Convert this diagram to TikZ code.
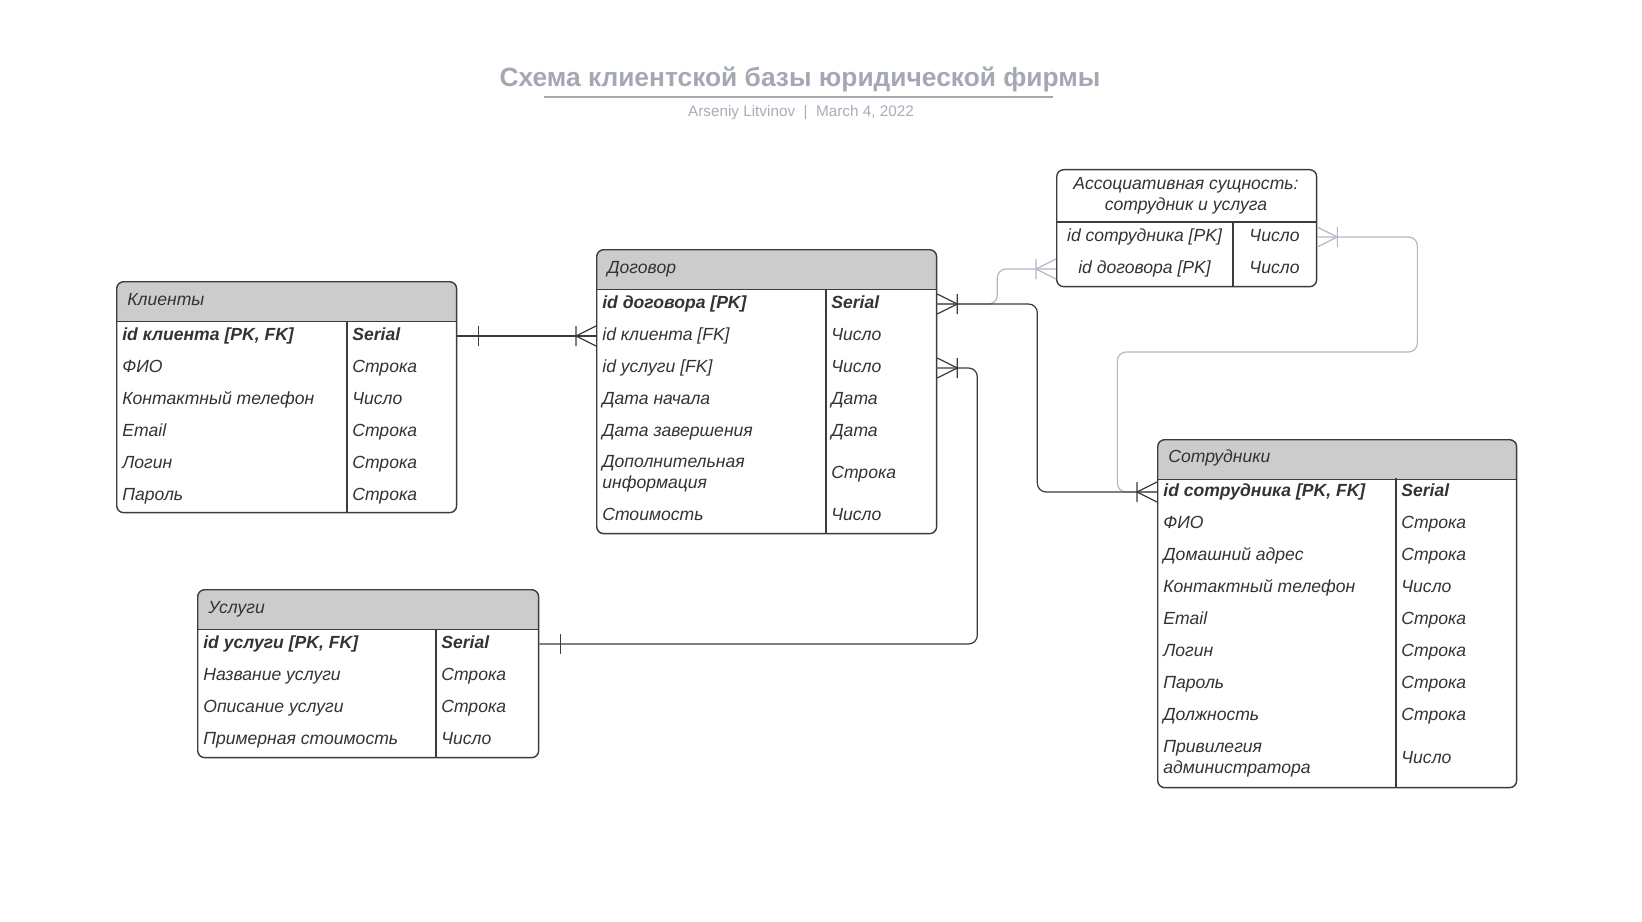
\documentclass[tikz,border=0pt]{standalone}
\usepackage{fontspec}
\setmainfont{Liberation Sans}
\usepackage{xcolor}
\definecolor{tabline}{HTML}{3C3C3C}
\definecolor{headfill}{HTML}{CCCCCC}
\definecolor{txt}{HTML}{333333}
\definecolor{relgray}{HTML}{B3B9C6}
\definecolor{ttl}{HTML}{A3A8B2}
\definecolor{byl}{HTML}{A9ACB3}

\tikzset{
  tab/.style={draw=tabline, line width=0.8pt, rounded corners=4pt, anchor=north west, inner sep=0pt, fill=white},
  headtab/.style={tab, path picture={
      \fill[headfill, sharp corners] (path picture bounding box.north west) rectangle ([yshift=-0.8cm]path picture bounding box.north east);
      \draw[tabline, line width=0.8pt, sharp corners] ([yshift=-0.8cm]path picture bounding box.north west) -- ([yshift=-0.8cm]path picture bounding box.north east);}},
  sep/.style={draw=tabline, line width=0.8pt},
  fld/.style={anchor=west, inner sep=0pt, text height=7.3pt, text depth=2.3pt, text=txt, font=\fontsize{10}{12}\selectfont\itshape},
  key/.style={fld, font=\fontsize{10}{12}\selectfont\bfseries\itshape},
  twoline/.style={fld, text height=, text depth=, align=left},
  rel/.style={draw=tabline, line width=0.7pt, rounded corners=5pt},
  relg/.style={rel, draw=relgray},
  one/.pic={\draw[line width=0.7pt] (21,-10) -- (21,10);},
  many/.pic={\draw[line width=0.7pt, sharp corners] (20,-10) -- (20,10) (0,-10) -- (20,0) -- (0,10);}
}

\begin{document}
\begin{tikzpicture}[x=0.02cm, y=-0.02cm]
\useasboundingbox (0,0) rectangle (1642,922);

% title
\node[font=\fontsize{15}{18}\selectfont\bfseries, text=ttl] (title) at (800,79) {Схема клиентской базы юридической фирмы};
\draw[ttl, line width=1.6pt] (544,97) -- (1053,97);
\node[font=\fontsize{8.7}{10}\selectfont, text=byl] (byline) at (801,113) {Arseniy Litvinov~~|~~March 4, 2022};

% Клиенты
\node[headtab, minimum width=6.8cm, minimum height=4.62cm] (kl) at (116,281) {};
\node[fld] (kl-h) at (127,301) {Клиенты};
\draw[sep] (347,321) -- (347,512);
\node[key] (kl-id) at (122,336) {id клиента [PK, FK]};
\node[key] (kl-idt) at (352,336) {Serial};
\foreach \n/\t [count=\i] in {ФИО/Строка, Контактный телефон/Число, Email/Строка, Логин/Строка, Пароль/Строка}{
  \node[fld] (kl-f\i) at (122,336+32*\i) {\n};
  \node[fld] (kl-t\i) at (352,336+32*\i) {\t};
}

% Договор
\node[headtab, minimum width=6.8cm, minimum height=5.68cm] (dg) at (596,249) {};
\node[fld] (dg-h) at (607,269) {Договор};
\draw[sep] (826,289) -- (826,533);
\node[key] (dg-id) at (602,304) {id договора [PK]};
\node[key] (dg-idt) at (831,304) {Serial};
\foreach \n/\t [count=\i] in {id клиента [FK]/Число, id услуги [FK]/Число, Дата начала/Дата, Дата завершения/Дата}{
  \node[fld] (dg-f\i) at (602,304+32*\i) {\n};
  \node[fld] (dg-t\i) at (831,304+32*\i) {\t};
}
\node[twoline] (dg-f5) at (602,474) {Дополнительная\\информация};
\node[fld] (dg-t5) at (831,474) {Строка};
\node[fld] (dg-f6) at (602,516) {Стоимость};
\node[fld] (dg-t6) at (831,516) {Число};

% Услуги
\node[headtab, minimum width=6.82cm, minimum height=3.36cm] (us) at (197,589) {};
\node[fld] (us-h) at (208,609) {Услуги};
\draw[sep] (436,629) -- (436,757);
\node[key] (us-id) at (203,644) {id услуги [PK, FK]};
\node[key] (us-idt) at (441,644) {Serial};
\foreach \n/\t [count=\i] in {Название услуги/Строка, Описание услуги/Строка, Примерная стоимость/Число}{
  \node[fld] (us-f\i) at (203,644+32*\i) {\n};
  \node[fld] (us-t\i) at (441,644+32*\i) {\t};
}

% Сотрудники
\node[headtab, minimum width=7.18cm, minimum height=6.96cm] (st) at (1157,439) {};
\node[fld] (st-h) at (1168,458) {Сотрудники};
\draw[sep] (1396,478) -- (1396,787);
\node[key] (st-id) at (1163,492) {id сотрудника [PK, FK]};
\node[key] (st-idt) at (1401,492) {Serial};
\foreach \n/\t [count=\i] in {ФИО/Строка, Домашний адрес/Строка, Контактный телефон/Число, Email/Строка, Логин/Строка, Пароль/Строка, Должность/Строка}{
  \node[fld] (st-f\i) at (1163,492+32*\i) {\n};
  \node[fld] (st-t\i) at (1401,492+32*\i) {\t};
}
\node[twoline] (st-f8) at (1163,759) {Привилегия\\администратора};
\node[fld] (st-t8) at (1401,759) {Число};

% ассоциативная сущность
\node[tab, minimum width=5.2cm, minimum height=2.34cm] (as) at (1056,169) {};
\node[twoline, anchor=center, align=center] (as-h) at (1186,196) {Ассоциативная сущность:\\сотрудник и услуга};
\draw[sep] (1056,222) -- (1316,222) (1233,222) -- (1233,286);
\node[fld, anchor=center] (as-st) at (1144.5,237) {id сотрудника [PK]};
\node[fld, anchor=center] (as-stt) at (1274.5,237) {Число};
\node[fld, anchor=center] (as-dg) at (1144.5,269) {id договора [PK]};
\node[fld, anchor=center] (as-dgt) at (1274.5,269) {Число};

% связи
\draw[relg] (dg-id -| dg.east) -- ++(60,0) |- (as-dg -| as.west);
\draw[relg] (as-st -| as.east) -- ++(100,0) -- ++(0,115) -- ++(-300,0) |- (st-id -| st.west);
\pic[relgray, rotate=180] at (as-dg -| as.west) {many};
\pic[relgray] at (as-st -| as.east) {many};

\draw[rel] (kl-id -| kl.east) -- (dg-f1 -| dg.west);
\draw[rel] (dg-id -| dg.east) -- ++(100,0) |- (st-id -| st.west);
\draw[rel] (dg-f2 -| dg.east) -- ++(40,0) |- (us-id -| us.east);
\pic[tabline] at (kl-id -| kl.east) {one};
\pic[tabline, rotate=180] at (dg-f1 -| dg.west) {many};
\pic[tabline] at (dg-id -| dg.east) {many};
\pic[tabline] at (dg-f2 -| dg.east) {many};
\pic[tabline, rotate=180] at (st-id -| st.west) {many};
\pic[tabline] at (us-id -| us.east) {one};
\end{tikzpicture}
\end{document}
